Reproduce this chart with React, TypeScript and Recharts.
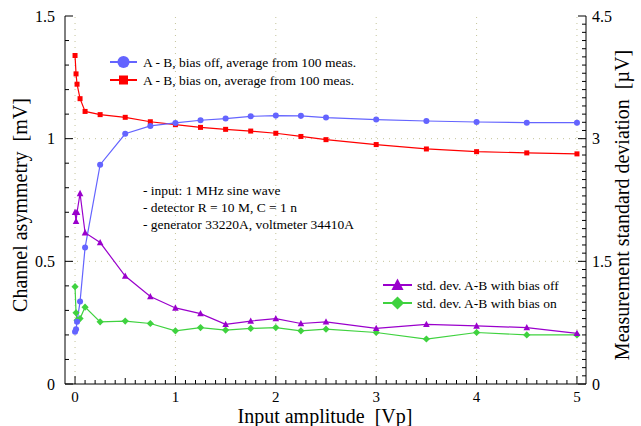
import { Line, LineChart, ReferenceLine, XAxis, YAxis } from "recharts";

// input amplitude [Vp]
const amplitude = [0, 0.01, 0.02, 0.05, 0.1, 0.25, 0.5, 0.75, 1, 1.25, 1.5, 1.75, 2, 2.25, 2.5, 3, 3.5, 4, 4.5, 5];
// channel asymmetry [mV]
const biasOff = [0.213, 0.223, 0.254, 0.336, 0.556, 0.894, 1.02, 1.052, 1.064, 1.075, 1.082, 1.091, 1.094, 1.093, 1.086, 1.078, 1.072, 1.068, 1.065, 1.065];
const biasOn = [1.339, 1.264, 1.222, 1.163, 1.111, 1.098, 1.087, 1.069, 1.057, 1.046, 1.038, 1.031, 1.022, 1.009, 0.996, 0.976, 0.958, 0.947, 0.942, 0.938];
// measurement standard deviation [µV]
const sdBiasOff = [2.1, 1.99, 2.1, 2.33, 1.85, 1.73, 1.32, 1.07, 0.93, 0.86, 0.73, 0.77, 0.8, 0.74, 0.76, 0.68, 0.73, 0.71, 0.69, 0.62];
const sdBiasOn = [1.19, 0.87, 0.78, 0.8, 0.94, 0.76, 0.77, 0.74, 0.65, 0.69, 0.66, 0.68, 0.69, 0.65, 0.67, 0.63, 0.55, 0.63, 0.6, 0.6];

const xMajor = [0, 1, 2, 3, 4, 5];
const leftMajor = [0, 0.5, 1, 1.5];
const rightMajor = [0, 1.5, 3, 4.5];
const gridX = [0, 1, 2, 3, 4, 5];
const gridY = [0.5, 1];

const seriesNames = [
  "A - B, bias off, average from 100 meas.",
  "A - B, bias on, average from 100 meas.",
  "std. dev. A-B with bias off",
  "std. dev. A-B with bias on",
];
const notes = [
  "- input: 1 MHz sine wave",
  "- detector R = 10 M, C = 1 n",
  "- generator 33220A, voltmeter 34410A",
];
const xTitle = "Input amplitude\u00a0\u00a0[Vp]";
const leftTitle = "Channel asymmetry\u00a0\u00a0[mV]";
const rightTitle = "Measurement standard deviation\u00a0\u00a0[µV]";

const FONT = "'Liberation Serif', 'Times New Roman', serif";
const BLUE = "#6464ff";
const RED = "#ff0000";
const PURPLE = "#9a00cc";
const GREEN = "#3fd23f";
const GRID = "#c4c49a";

const data = amplitude.map((x, i) => ({
  x,
  off: biasOff[i],
  on: biasOn[i],
  sdOff: sdBiasOff[i],
  sdOn: sdBiasOn[i],
}));

function steps(max: number, step: number) {
  const out: number[] = [];
  for (let i = 0; i * step <= max + 1e-9; i++) out.push(+(i * step).toFixed(4));
  return out;
}
const isIn = (v: number, list: number[]) => list.some((m) => Math.abs(m - v) < 1e-6);

const xTicks = steps(5, 0.1);
const leftTicks = steps(1.5, 0.1);
const rightTicks = steps(4.5, 0.1);

function marker(kind: string, cx: number, cy: number, s: number, color: string, key?: any) {
  if (kind === "circle") return <circle key={key} cx={cx} cy={cy} r={s * 0.55} fill={color} />;
  if (kind === "square")
    return <rect key={key} x={cx - s / 2} y={cy - s / 2} width={s} height={s} fill={color} />;
  if (kind === "triangle")
    return (
      <polygon
        key={key}
        points={`${cx},${cy - s * 0.6} ${cx - s * 0.55},${cy + s * 0.45} ${cx + s * 0.55},${cy + s * 0.45}`}
        fill={color}
      />
    );
  return (
    <polygon
      key={key}
      points={`${cx},${cy - s * 0.6} ${cx + s * 0.6},${cy} ${cx},${cy + s * 0.6} ${cx - s * 0.6},${cy}`}
      fill={color}
    />
  );
}

const dot = (kind: string, color: string, s: number) => (p: any) =>
  marker(kind, p.cx, p.cy, s, color, p.index);

const xTickLen = (v: number) =>
  isIn(v, xMajor) ? 8 : isIn(v * 2, xMajor.map((m) => m * 2 + 1)) ? 6 : 4;

const BottomTick = (p: any) => {
  const v = p.payload.value;
  return (
    <g>
      <line x1={p.x} x2={p.x} y1={p.y} y2={p.y - xTickLen(v)} stroke="#000" />
      {isIn(v, xMajor) && (
        <text
          x={p.x}
          y={p.y + 13}
          textAnchor="middle"
          dominantBaseline="central"
          fontSize={15}
          fontFamily={FONT}
          fill="#000"
        >
          {v}
        </text>
      )}
    </g>
  );
};

const TopTick = (p: any) => (
  <line x1={p.x} x2={p.x} y1={p.y} y2={p.y + xTickLen(p.payload.value)} stroke="#000" />
);

const LeftTick = (p: any) => {
  const v = p.payload.value;
  const major = isIn(v, leftMajor);
  return (
    <g>
      <line x1={p.x} x2={p.x + (major ? 8 : 4)} y1={p.y} y2={p.y} stroke="#000" />
      {major && (
        <text
          x={p.x - 10}
          y={p.y}
          textAnchor="end"
          dominantBaseline="central"
          fontSize={16}
          fontFamily={FONT}
          fill="#000"
        >
          {v}
        </text>
      )}
    </g>
  );
};

const RightTick = (p: any) => {
  const v = p.payload.value;
  const major = isIn(v, rightMajor);
  return (
    <g>
      <line x1={p.x} x2={p.x - (major ? 8 : 4)} y1={p.y} y2={p.y} stroke="#000" />
      {major && (
        <text
          x={p.x + 6}
          y={p.y}
          textAnchor="start"
          dominantBaseline="central"
          fontSize={16}
          fontFamily={FONT}
          fill="#000"
        >
          {v}
        </text>
      )}
    </g>
  );
};

export default function App() {
  return (
    <div
      style={{
        position: "absolute",
        left: 0,
        top: 0,
        width: 641,
        height: 426,
        background: "#fff",
        fontFamily: FONT,
      }}
    >
      <LineChart width={641} height={426} data={data} margin={{ top: 16, right: 0, bottom: 0, left: 0 }}>
        <XAxis
          xAxisId="bottom"
          dataKey="x"
          type="number"
          domain={[-0.1, 5.09]}
          ticks={xTicks}
          interval={0}
          height={42}
          tickSize={0}
          tickMargin={0}
          tick={BottomTick}
          stroke="#000"
          allowDataOverflow
        />
        <XAxis
          xAxisId="top"
          orientation="top"
          dataKey="x"
          type="number"
          domain={[-0.1, 5.09]}
          ticks={xTicks}
          interval={0}
          height={0}
          tickSize={0}
          tickMargin={0}
          tick={TopTick}
          stroke="#000"
          allowDataOverflow
        />
        <YAxis
          yAxisId="left"
          type="number"
          domain={[0, 1.5]}
          ticks={leftTicks}
          interval={0}
          width={65}
          tickSize={0}
          tickMargin={0}
          tick={LeftTick}
          stroke="#000"
          allowDataOverflow
        />
        <YAxis
          yAxisId="right"
          orientation="right"
          type="number"
          domain={[0, 4.5]}
          ticks={rightTicks}
          interval={0}
          width={55}
          tickSize={0}
          tickMargin={0}
          tick={RightTick}
          stroke="#000"
          allowDataOverflow
        />
        {gridX.map((g) => (
          <ReferenceLine
            key={"gx" + g}
            x={g}
            xAxisId="bottom"
            yAxisId="left"
            stroke={GRID}
            strokeDasharray="1 5"
          />
        ))}
        {gridY.map((g) => (
          <ReferenceLine
            key={"gy" + g}
            y={g}
            xAxisId="bottom"
            yAxisId="left"
            stroke={GRID}
            strokeDasharray="1 5"
          />
        ))}
        <Line
          xAxisId="bottom"
          yAxisId="right"
          dataKey="sdOn"
          stroke={GREEN}
          strokeWidth={1.2}
          dot={dot("diamond", GREEN, 6)}
          isAnimationActive={false}
        />
        <Line
          xAxisId="bottom"
          yAxisId="right"
          dataKey="sdOff"
          stroke={PURPLE}
          strokeWidth={1.2}
          dot={dot("triangle", PURPLE, 6)}
          isAnimationActive={false}
        />
        <Line
          xAxisId="bottom"
          yAxisId="left"
          dataKey="on"
          stroke={RED}
          strokeWidth={1.2}
          dot={dot("square", RED, 5)}
          isAnimationActive={false}
        />
        <Line
          xAxisId="bottom"
          yAxisId="left"
          dataKey="off"
          stroke={BLUE}
          strokeWidth={1.2}
          dot={dot("circle", BLUE, 5.5)}
          isAnimationActive={false}
        />
      </LineChart>
      <svg
        width={641}
        height={426}
        fontFamily={FONT}
        style={{ position: "absolute", left: 0, top: 0, pointerEvents: "none" }}
      >
        {/* upper legend */}
        {[
          { kind: "circle", color: BLUE, name: seriesNames[0], y: 62 },
          { kind: "square", color: RED, name: seriesNames[1], y: 80 },
        ].map((e) => (
          <g key={e.name}>
            <line x1={110} x2={137} y1={e.y} y2={e.y} stroke={e.color} strokeWidth={2} />
            {marker(e.kind, 123.5, e.y, e.kind === "circle" ? 11 : 9, e.color)}
            <text x={143} y={e.y} dominantBaseline="central" fontSize={13.5} fontFamily={FONT} fill="#000">
              {e.name}
            </text>
          </g>
        ))}
        {/* lower legend */}
        {[
          { kind: "triangle", color: PURPLE, name: seriesNames[2], y: 285 },
          { kind: "diamond", color: GREEN, name: seriesNames[3], y: 303 },
        ].map((e) => (
          <g key={e.name}>
            <line x1={383} x2={412} y1={e.y} y2={e.y} stroke={e.color} strokeWidth={2} />
            {marker(e.kind, 397.5, e.y, 11, e.color)}
            <text x={417} y={e.y} dominantBaseline="central" fontSize={13.5} fontFamily={FONT} fill="#000">
              {e.name}
            </text>
          </g>
        ))}
        {notes.map((n, i) => (
          <text
            key={n}
            x={143}
            y={190 + i * 17}
            dominantBaseline="central"
            fontSize={13.5}
            fontFamily={FONT}
            fill="#000"
          >
            {n}
          </text>
        ))}
        <text
          x={325}
          y={416}
          textAnchor="middle"
          dominantBaseline="central"
          fontSize={20}
          fontFamily={FONT}
          fill="#000"
        >
          {xTitle}
        </text>
        <text
          x={20}
          y={205}
          textAnchor="middle"
          dominantBaseline="central"
          fontSize={20}
          fontFamily={FONT}
          fill="#000"
          transform="rotate(-90 20 205)"
        >
          {leftTitle}
        </text>
        <text
          x={622}
          y={205}
          textAnchor="middle"
          dominantBaseline="central"
          fontSize={20}
          fontFamily={FONT}
          fill="#000"
          transform="rotate(-90 622 205)"
        >
          {rightTitle}
        </text>
      </svg>
    </div>
  );
}
